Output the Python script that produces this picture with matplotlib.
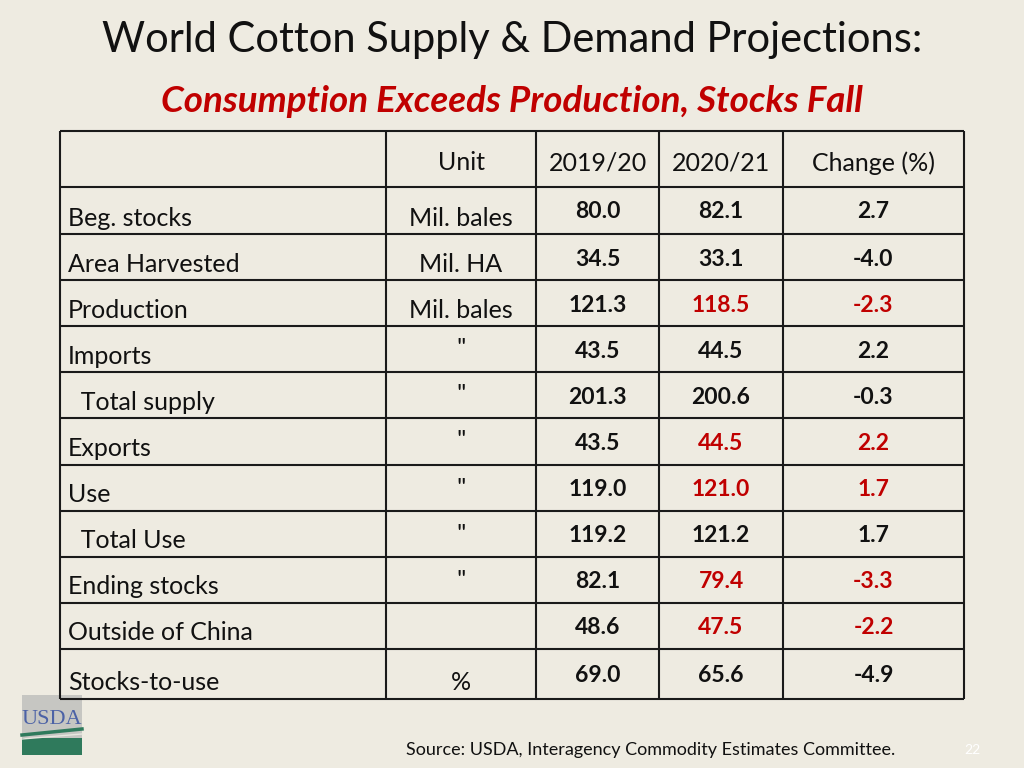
import matplotlib
matplotlib.use("Agg")
import matplotlib.pyplot as plt
from matplotlib.patches import Rectangle

plt.rcParams['font.family'] = ['Lato', 'DejaVu Sans']

title = "World Cotton Supply & Demand Projections:"
subtitle = "Consumption Exceeds Production, Stocks Fall"
headers = ["", "Unit", "2019/20", "2020/21", "Change (%)"]
row_labels = ["Beg. stocks", "Area Harvested", "Production", "Imports", "  Total supply",
              "Exports", "Use", "  Total Use", "Ending stocks", "Outside of China", "Stocks-to-use"]
units = ["Mil. bales", "Mil. HA", "Mil. bales", '"', '"', '"', '"', '"', '"', "", "%"]
v2019 = [80.0, 34.5, 121.3, 43.5, 201.3, 43.5, 119.0, 119.2, 82.1, 48.6, 69.0]
v2020 = [82.1, 33.1, 118.5, 44.5, 200.6, 44.5, 121.0, 121.2, 79.4, 47.5, 65.6]
change = [2.7, -4.0, -2.3, 2.2, -0.3, 2.2, 1.7, 1.7, -3.3, -2.2, -4.9]
red2020 = [False, False, True, False, False, True, True, False, True, True, False]
redchg = [False, False, True, False, False, True, True, False, True, True, False]
source = "Source: USDA, Interagency Commodity Estimates Committee."
page = "22"

BG = "#EEEBE1"
RED = "#C00000"
INK = "#111111"

fig = plt.figure(figsize=(10.24, 7.68), dpi=100, facecolor=BG)
ax = fig.add_axes([0, 0, 1, 1])
ax.set_xlim(0, 1024)
ax.set_ylim(768, 0)
ax.axis("off")
ax.set_facecolor(BG)

ax.text(512, 40, title, ha="center", va="center", fontsize=30, color=INK)
ax.text(512, 101, subtitle, ha="center", va="center", fontsize=26.5, color=RED,
        fontweight="bold", fontstyle="italic")

# table grid
col_x = [60, 386, 536, 659, 783, 964]
row_y = [131, 187, 234, 280, 326, 372, 418, 465, 511, 557, 603, 649, 699]
lw = 1.5
for x in col_x:
    ax.plot([x, x], [row_y[0], row_y[-1]], color="#1a1a1a", lw=lw, solid_capstyle="butt")
for y in row_y:
    ax.plot([col_x[0], col_x[-1]], [y, y], color="#1a1a1a", lw=lw, solid_capstyle="butt")

# header
for i in range(1, 5):
    cx = (col_x[i] + col_x[i + 1]) / 2
    ax.text(cx, 163, headers[i], ha="center", va="center", fontsize=18, color=INK)

for r in range(len(row_labels)):
    top, bot = row_y[r + 1], row_y[r + 2]
    last = r == len(row_labels) - 1
    label_y = bot - 16
    num_y = top + 25 if not last else top + 26
    ax.text(68, label_y, row_labels[r], ha="left", va="center", fontsize=18, color=INK)
    u = units[r]
    uy = label_y if u != '"' else num_y - 2
    ax.text((col_x[1] + col_x[2]) / 2, uy, u, ha="center", va="center", fontsize=18, color=INK)
    ax.text((col_x[2] + col_x[3]) / 2, num_y, f"{v2019[r]:.1f}", ha="center", va="center",
            fontsize=16.5, fontweight="bold", color=INK)
    ax.text((col_x[3] + col_x[4]) / 2, num_y, f"{v2020[r]:.1f}", ha="center", va="center",
            fontsize=16.5, fontweight="bold", color=RED if red2020[r] else INK)
    ax.text((col_x[4] + col_x[5]) / 2, num_y, f"{change[r]:.1f}", ha="center", va="center",
            fontsize=16.5, fontweight="bold", color=RED if redchg[r] else INK)

# USDA logo
ax.add_patch(Rectangle((22, 695), 60, 60, facecolor="#C6C6C2", edgecolor="none"))
ax.add_patch(Rectangle((22, 738), 60, 17, facecolor="#2F7A5C", edgecolor="none"))
ax.text(52, 719, "USDA", ha="center", va="center", fontsize=16, color="#4C62A6",
        family="Liberation Serif")
ax.plot([22, 82], [735, 729], color="#2F7A5C", lw=2.5)
ax.plot([22, 82], [739, 734], color="#E8E8E0", lw=1)

ax.text(650.5, 750, source, ha="center", va="center", fontsize=13, color=INK)
ax.text(972, 750, page, ha="center", va="center", fontsize=10, color="#FFFFFF")

fig.savefig("out.png", dpi=100, facecolor=BG)
